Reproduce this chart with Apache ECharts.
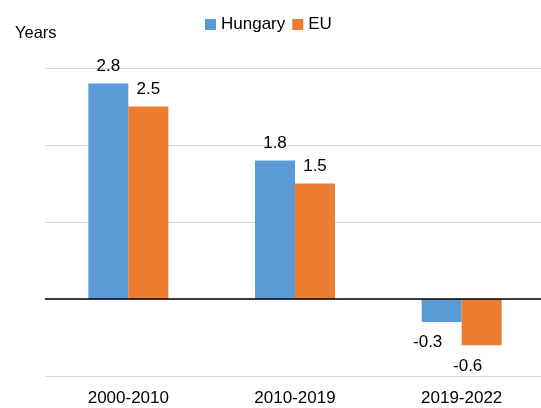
<!DOCTYPE html>
<html><head><meta charset="utf-8">
<script src="https://cdn.jsdelivr.net/npm/echarts@6/dist/echarts.min.js"></script>
<style>html,body{margin:0;padding:0;background:#fff;overflow:hidden}#c{width:545px;height:408px}</style>
</head><body><div id="c"></div>
<script>
const categories = ['2000-2010', '2010-2019', '2019-2022'];
const hungary = [2.8, 1.8, -0.3];
const eu = [2.5, 1.5, -0.6];
const seriesNames = ['Hungary', 'EU'];
const yMin = -1, yMax = 3, yInterval = 1;

const FONT = 'Liberation Sans, Arial, sans-serif';
function items(vals, negDist) {
  return vals.map(v => v >= 0
    ? { value: v, label: { position: 'top', distance: 9 } }
    : { value: v, label: { position: 'bottom', distance: negDist, offset: [-14, 0] } });
}
const chart = echarts.init(document.getElementById('c'), null, { renderer: 'canvas' });
chart.setOption({
  animation: false,
  textStyle: { fontFamily: FONT },
  title: { text: 'Years', left: 10, top: 20, textStyle: { fontFamily: FONT, fontSize: 16.5, fontWeight: 'normal', color: '#000' } },
  legend: {
    data: seriesNames, left: 200, top: 11, itemWidth: 11, itemHeight: 11, itemGap: 7,
    icon: 'rect', textStyle: { fontFamily: FONT, fontSize: 17, color: '#000' }
  },
  grid: { left: 45, right: 0, top: 68, bottom: 32, containLabel: false },
  xAxis: {
    type: 'category', data: categories,
    axisLine: { show: false, onZero: false }, axisTick: { show: false },
    axisLabel: { color: '#000', fontSize: 17, fontFamily: FONT, margin: 14 }
  },
  yAxis: {
    type: 'value', min: yMin, max: yMax, interval: yInterval,
    axisLabel: { show: false }, axisLine: { show: false }, axisTick: { show: false },
    splitLine: { lineStyle: { color: '#d9d9d9', width: 1 } }
  },
  series: [
    {
      name: seriesNames[0], type: 'bar', data: items(hungary, 12), barWidth: 40, barGap: '0%',
      itemStyle: { color: '#5B9BD5' },
      label: { show: true, color: '#000', fontSize: 17, fontFamily: FONT },
      markLine: {
        silent: true, symbol: 'none', label: { show: false },
        lineStyle: { color: '#000', width: 1.5, type: 'solid' },
        data: [{ yAxis: 0 }], z: 10
      }
    },
    {
      name: seriesNames[1], type: 'bar', data: items(eu, 13), barWidth: 40, barGap: '0%',
      itemStyle: { color: '#ED7D31' },
      label: { show: true, color: '#000', fontSize: 17, fontFamily: FONT }
    }
  ]
});
</script></body></html>
